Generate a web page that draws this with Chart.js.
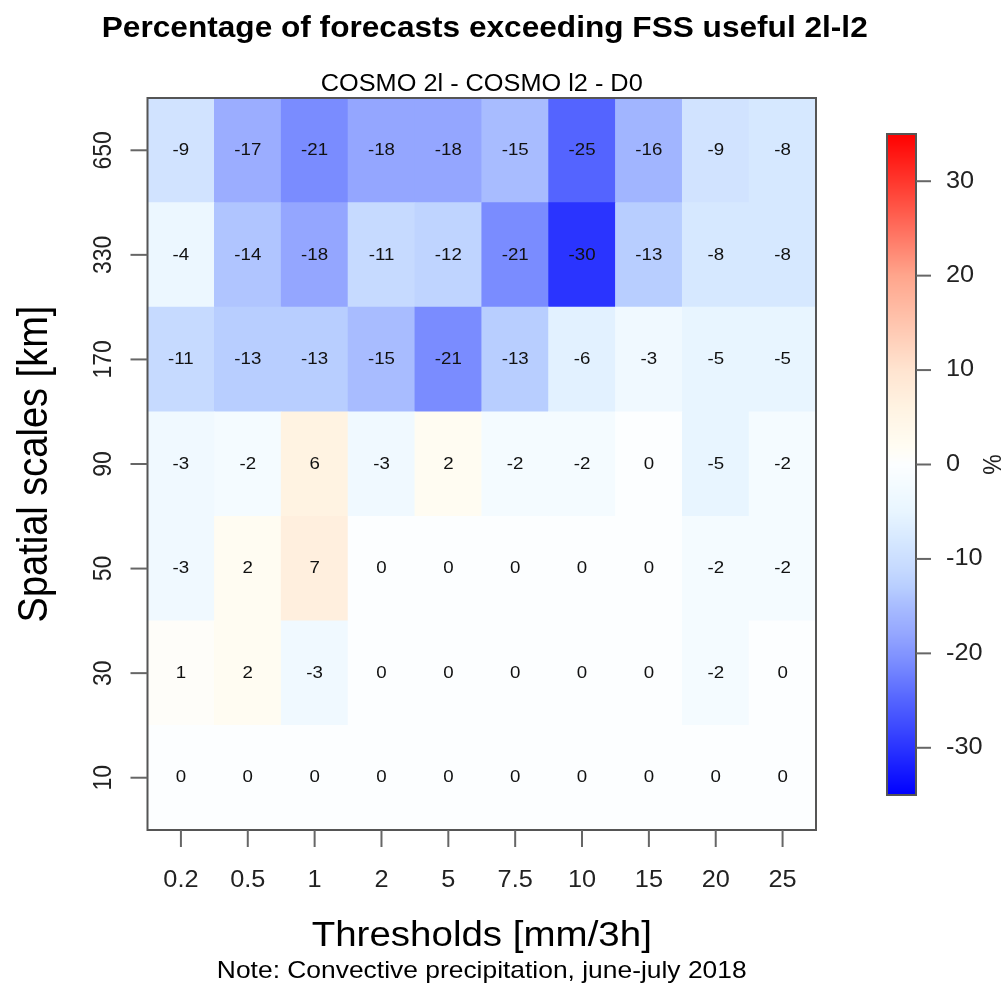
<!DOCTYPE html>
<html>
<head>
<meta charset="utf-8">
<script src="https://cdn.jsdelivr.net/npm/chart.js@4.4.1/dist/chart.umd.min.js"></script>
<style>
  html, body { margin: 0; padding: 0; background: #fff; }
  canvas { display: block; }
</style>
</head>
<body>
<canvas id="fss" width="1007" height="988"></canvas>
<script>
// thresholds (x) and spatial scales (y, bottom to top)
const thresholds = ["0.2", "0.5", "1", "2", "5", "7.5", "10", "15", "20", "25"];
const spatialScales = ["10", "30", "50", "90", "170", "330", "650"];

// percentage difference 2l - l2, one array per spatial scale
const km10  = [0, 0, 0, 0, 0, 0, 0, 0, 0, 0];
const km30  = [1, 2, -3, 0, 0, 0, 0, 0, -2, 0];
const km50  = [-3, 2, 7, 0, 0, 0, 0, 0, -2, -2];
const km90  = [-3, -2, 6, -3, 2, -2, -2, 0, -5, -2];
const km170 = [-11, -13, -13, -15, -21, -13, -6, -3, -5, -5];
const km330 = [-4, -14, -18, -11, -12, -21, -30, -13, -8, -8];
const km650 = [-9, -17, -21, -18, -18, -15, -25, -16, -9, -8];
const rows = [km10, km30, km50, km90, km170, km330, km650];

const colorTicks = [-30, -20, -10, 0, 10, 20, 30];
const zlim = [-35, 35];

// blue - white - red palette
const palette = [
  [-35, [0, 0, 255]], [-30, [42, 52, 255]], [-25, [84, 100, 255]],
  [-21, [122, 140, 255]], [-18, [148, 166, 255]], [-15, [168, 188, 255]],
  [-13, [184, 206, 255]], [-11, [198, 218, 255]], [-8, [214, 232, 255]],
  [-5, [232, 245, 255]], [-2, [244, 251, 255]], [0, [252, 254, 255]],
  [2, [255, 252, 242]], [6, [255, 243, 226]], [10, [255, 228, 208]],
  [20, [255, 165, 140]], [30, [255, 55, 45]], [35, [255, 0, 0]]
];

function colorFor(v) {
  if (v <= palette[0][0]) return "rgb(" + palette[0][1].join(",") + ")";
  for (let i = 1; i < palette.length; i++) {
    if (v <= palette[i][0]) {
      const [v0, c0] = palette[i - 1], [v1, c1] = palette[i];
      const t = (v - v0) / (v1 - v0);
      const c = c0.map((a, k) => Math.round(a + (c1[k] - a) * t));
      return "rgb(" + c.join(",") + ")";
    }
  }
  return "rgb(" + palette[palette.length - 1][1].join(",") + ")";
}

const FONT = '"Liberation Sans", Arial, Helvetica, sans-serif';
const SX = 1.1;

function txt(ctx, s, x, y, o) {
  ctx.save();
  ctx.translate(x, y);
  ctx.scale(o.sx || SX, 1);
  if (o.rot) ctx.rotate(o.rot);
  ctx.font = o.font;
  ctx.textAlign = o.align || "center";
  ctx.textBaseline = o.base || "alphabetic";
  ctx.fillStyle = o.color || "#000";
  ctx.fillText(s, 0, 0);
  ctx.restore();
}

const decorations = {
  id: "decorations",
  afterDatasetsDraw(chart) {
    const ctx = chart.ctx;
    const xs = chart.scales.x, ys = chart.scales.y;
    const area = chart.chartArea;

    // cell values
    rows.forEach((vals, r) => {
      vals.forEach((v, i) => {
        txt(ctx, String(v), xs.getPixelForValue(i), ys.getPixelForValue(r + 0.5),
          { font: "17px " + FONT, base: "middle", color: "#111" });
      });
    });

    // frame
    ctx.save();
    ctx.strokeStyle = "#555";
    ctx.lineWidth = 2;
    ctx.strokeRect(area.left, area.top, area.right - area.left, area.bottom - area.top);

    // x ticks
    ctx.strokeStyle = "#666";
    ctx.lineWidth = 2;
    thresholds.forEach((t, i) => {
      const x = xs.getPixelForValue(i);
      ctx.beginPath();
      ctx.moveTo(x, area.bottom);
      ctx.lineTo(x, area.bottom + 17);
      ctx.stroke();
      txt(ctx, t, x, area.bottom + 57, { font: "23px " + FONT, color: "#222" });
    });
    // y ticks
    spatialScales.forEach((s, r) => {
      const y = ys.getPixelForValue(r + 0.5);
      ctx.beginPath();
      ctx.moveTo(area.left, y);
      ctx.lineTo(area.left - 17, y);
      ctx.stroke();
      txt(ctx, s, area.left - 37, y, { font: "23px " + FONT, color: "#222", rot: -Math.PI / 2 });
    });
    ctx.restore();

    const cx = (area.left + area.right) / 2;
    // titles
    txt(ctx, "Percentage of forecasts exceeding FSS useful 2l-l2", cx + 3, 37,
      { font: "bold 29px " + FONT, sx: 1.09 });
    txt(ctx, "COSMO 2l - COSMO l2 - D0", cx, 91, { font: "23px " + FONT });
    txt(ctx, "Thresholds [mm/3h]", cx, 946, { font: "35px " + FONT });
    txt(ctx, "Note: Convective precipitation, june-july 2018", cx, 978, { font: "24px " + FONT });
    txt(ctx, "Spatial scales [km]", 47, (area.top + area.bottom) / 2,
      { font: "38px " + FONT, rot: -Math.PI / 2 });

    // colour bar
    const bx0 = 887, bx1 = 916, by0 = 134, by1 = 795;
    const yOf = v => by1 - (v - zlim[0]) / (zlim[1] - zlim[0]) * (by1 - by0);
    for (let y = by0; y < by1; y++) {
      const v = zlim[0] + (by1 - y - 0.5) / (by1 - by0) * (zlim[1] - zlim[0]);
      ctx.fillStyle = colorFor(v);
      ctx.fillRect(bx0, y, bx1 - bx0, 1);
    }
    ctx.save();
    ctx.strokeStyle = "#555";
    ctx.lineWidth = 2;
    ctx.strokeRect(bx0, by0, bx1 - bx0, by1 - by0);
    ctx.strokeStyle = "#666";
    colorTicks.forEach(v => {
      const y = yOf(v);
      ctx.beginPath();
      ctx.moveTo(bx1, y);
      ctx.lineTo(bx1 + 15, y);
      ctx.stroke();
      txt(ctx, String(v), bx1 + 30, y, { font: "23px " + FONT, align: "left", base: "middle", color: "#222" });
    });
    ctx.restore();
    txt(ctx, "%", 1001, (by0 + by1) / 2, { font: "23px " + FONT, rot: -Math.PI / 2, color: "#222" });
  }
};

new Chart(document.getElementById("fss"), {
  type: "bar",
  data: {
    labels: thresholds,
    datasets: rows.map((vals, r) => ({
      label: spatialScales[r] + " km",
      data: vals.map(() => [r, r + 1]),
      backgroundColor: vals.map(colorFor),
      borderWidth: 0,
      grouped: false,
      barPercentage: 1,
      categoryPercentage: 1
    }))
  },
  options: {
    responsive: false,
    animation: false,
    devicePixelRatio: 1,
    layout: { padding: { left: 147.5, top: 98, right: 191, bottom: 158 } },
    plugins: { legend: { display: false }, tooltip: { enabled: false } },
    scales: {
      x: { display: false, offset: true },
      y: { display: false, min: 0, max: 7 }
    }
  },
  plugins: [decorations]
});
</script>
</body>
</html>
